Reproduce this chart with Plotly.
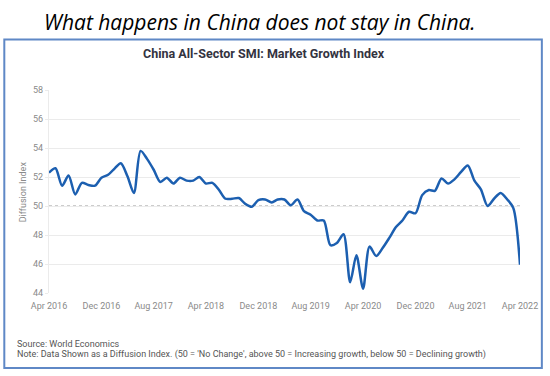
import plotly.graph_objects as go
import pandas as pd

months = pd.date_range("2016-04-01", "2022-04-01", freq="MS")
values = [
    52.3, 52.6, 51.4, 52.1, 50.8, 51.6, 51.45, 51.4, 51.95, 52.15,
    52.6, 52.95, 52.05, 50.9, 53.8, 53.25, 52.5, 51.65, 51.95, 51.55,
    51.95, 51.75, 51.75, 52.0, 51.55, 51.6, 51.1, 50.5, 50.5, 50.55,
    50.15, 49.95, 50.4, 50.45, 50.25, 50.45, 50.45, 50.05, 50.45, 49.65,
    49.4, 49.0, 49.0, 47.3, 47.45, 48.05, 44.75, 46.6, 44.3, 47.2,
    46.55, 47.1, 47.8, 48.55, 49.0, 49.6, 49.5, 50.75, 51.1, 51.05,
    51.9, 51.55, 51.85, 52.35, 52.8, 51.75, 51.15, 50.0, 50.5, 50.9,
    50.45, 49.85, 45.95,
]
y_ticks = [44, 46, 48, 50, 52, 54, 56, 58]
baseline = 50

main_title = "What happens in China does not stay in China."
chart_title = "China All-Sector SMI: Market Growth Index"
y_title = "Diffusion Index"
source_text = "Source: World Economics"
note_text = ("Note: Data Shown as a Diffusion Index. (50 = 'No Change', above 50 = "
             "Increasing growth, below 50 = Declining growth)")

fig = go.Figure()
fig.add_trace(go.Scatter(
    x=months, y=values, mode="lines",
    line=dict(color="#1c5fb0", width=2.5, shape="spline", smoothing=0.8),
    hoverinfo="x+y", showlegend=False,
))

fig.add_shape(type="line", xref="paper", x0=0, x1=1, yref="y", y0=baseline, y1=baseline,
              line=dict(color="#9a9a9a", width=1.2, dash="dot"), layer="below")

# outer blue frame
fig.add_shape(type="rect", xref="paper", yref="paper",
              x0=-0.0949, x1=1.0464, y0=-0.369, y1=1.249,
              line=dict(color="#5f88c6", width=2))

tick_font = dict(family="Roboto, Arial, sans-serif", size=9, color="#8a8a8a")

fig.update_layout(
    width=550, height=376,
    margin=dict(l=49, r=27, t=90, b=83),
    paper_bgcolor="white", plot_bgcolor="white",
    xaxis=dict(
        type="date",
        range=["2016-04-01", "2022-04-01"],
        tick0="2016-04-01", dtick="M8", tickformat="%b %Y",
        showgrid=False, showline=False, zeroline=False,
        ticks="outside", ticklen=4, tickcolor="rgba(0,0,0,0)",
        tickfont=tick_font,
    ),
    yaxis=dict(
        range=[44, 58], tickvals=y_ticks,
        showgrid=True, gridcolor="#ebebeb", gridwidth=1,
        showline=True, linecolor="#ebebeb", zeroline=False,
        ticks="outside", ticklen=3, tickcolor="#ebebeb",
        tickfont=tick_font,
    ),
    annotations=[
        dict(text="<i>" + main_title + "</i>", xref="paper", yref="paper", x=0.448, y=1.335,
             showarrow=False, xanchor="center", yanchor="middle",
             font=dict(family="Open Sans, sans-serif", size=21, color="#000000")),
        dict(text="<b>" + chart_title + "</b>", xref="paper", yref="paper", x=0.456, y=1.182,
             showarrow=False, xanchor="center", yanchor="middle",
             font=dict(family="Roboto, sans-serif", size=12.5, color="#33333f")),
        dict(text=y_title, xref="paper", yref="paper", x=-0.0555, y=0.5,
             showarrow=False, textangle=-90, xanchor="center", yanchor="middle",
             font=dict(family="Roboto, sans-serif", size=9, color="#8a8a8a")),
        dict(text=source_text, xref="paper", yref="paper", x=-0.0717, y=-0.251,
             showarrow=False, xanchor="left", yanchor="middle",
             font=dict(family="Roboto, sans-serif", size=9, color="#555555")),
        dict(text=note_text, xref="paper", yref="paper", x=-0.0717, y=-0.305,
             showarrow=False, xanchor="left", yanchor="middle",
             font=dict(family="Roboto, sans-serif", size=9, color="#555555")),
    ],
)

fig.write_html("out.html", config={"displayModeBar": False},
               post_script="document.body.style.margin='0';")
